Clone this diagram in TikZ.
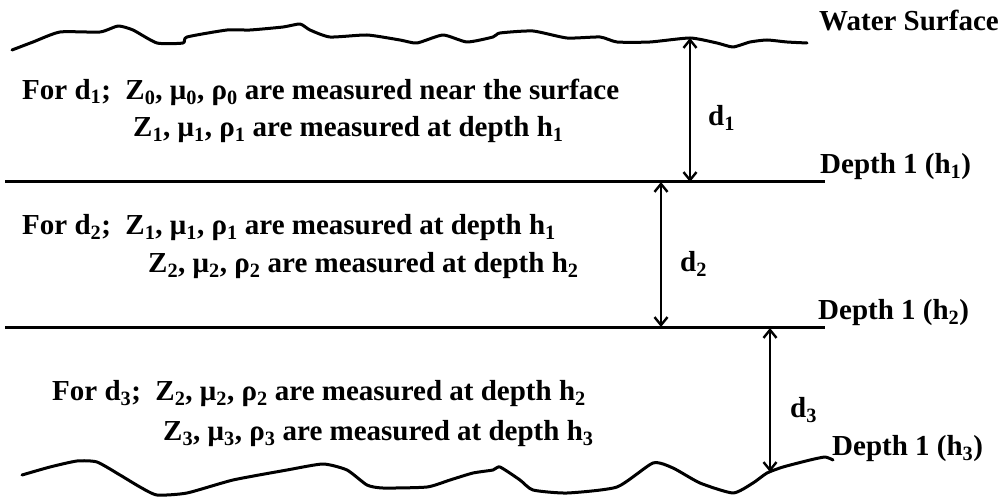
\documentclass[tikz,border=0pt]{standalone}
\usepackage{fontspec}
\setmainfont{Liberation Serif}
\usetikzlibrary{arrows.meta}
\newcommand{\sbs}[1]{\textsubscript{#1}}
\tikzset{
  wave/.style={line width=3pt, line join=round, line cap=round},
  layer/.style={line width=3pt},
  dimarrow/.style={line width=2.8pt, {Straight Barb[length=8pt,width=13pt,line width=2.4pt]}-{Straight Barb[length=8pt,width=13pt,line width=2.4pt]}},
  txt/.style={anchor=west, inner sep=0pt, font=\fontsize{29}{34}\selectfont\bfseries},
  lbl/.style={anchor=west, inner sep=0pt, font=\fontsize{29}{34}\selectfont\bfseries}
}
\begin{document}
\begin{tikzpicture}[x=1pt,y=-1pt]
\useasboundingbox (0,0) rectangle (998,497);
% water surface
\draw[wave] plot[smooth, tension=0.35] coordinates {(12,50) (33,42) (60,32) (100,32) (118,26) (133,30) (157,43) (183,43) (187,37) (227,30) (250,30) (283,27) (300,24) (310,30) (330,37) (367,35) (400,40) (417,43) (443,35) (467,42) (493,37) (500,33) (533,31) (567,38) (600,37) (617,42) (650,42) (690,38) (717,43) (733,47) (750,42) (767,40) (787,42) (807,43)};
% bottom
\draw[wave] plot[smooth, tension=0.35] coordinates {(22,475) (50,467) (77,461) (97,462) (120,475) (140,487) (157,495) (187,493) (233,480) (287,470) (323,464) (347,470) (367,485) (383,488) (427,487) (450,480) (473,473) (493,470) (500,467) (520,480) (533,490) (567,493) (617,487) (653,463) (673,468) (700,483) (733,493) (753,483) (767,473) (783,467) (810,460) (825,457) (833,460)};
% depth lines
\coordinate (l1a) at (5,182); \coordinate (l1b) at (825,182);
\coordinate (l2a) at (5,327); \coordinate (l2b) at (825,327);
\draw[layer] (l1a) -- (l1b);
\draw[layer] (l2a) -- (l2b);
% arrows
\coordinate (a1t) at (690,38); \coordinate (a1b) at (690,182);
\coordinate (a2t) at (661,182); \coordinate (a2b) at (661,327);
\coordinate (a3t) at (770,328); \coordinate (a3b) at (770,472);
\draw[dimarrow] (a1t) -- (a1b);
\draw[dimarrow] (a2t) -- (a2b);
\draw[dimarrow] (a3t) -- (a3b);
% labels
\node[lbl] (ws) at (819,21) {Water Surface};
\node[lbl] (dp1) at (820,167) {Depth 1 (h\sbs{1})};
\node[lbl] (dp2) at (818,313) {Depth 1 (h\sbs{2})};
\node[lbl] (dp3) at (832,449) {Depth 1 (h\sbs{3})};
\node[lbl] (d1) at (708,118) {d\sbs{1}};
\node[lbl] (d2) at (680,264) {d\sbs{2}};
\node[lbl] (d3) at (790,410) {d\sbs{3}};
% texts
\node[txt] (t1a) at (22,92) {For d\sbs{1};\ \ Z\sbs{0}, μ\sbs{0}, ρ\sbs{0} are measured near the surface};
\node[txt] (t1b) at (133,130) {Z\sbs{1}, μ\sbs{1}, ρ\sbs{1} are measured at depth h\sbs{1}};
\node[txt] (t2a) at (22,228) {For d\sbs{2};\ \ Z\sbs{1}, μ\sbs{1}, ρ\sbs{1} are measured at depth h\sbs{1}};
\node[txt] (t2b) at (148,266) {Z\sbs{2}, μ\sbs{2}, ρ\sbs{2} are measured at depth h\sbs{2}};
\node[txt] (t3a) at (52,394) {For d\sbs{3};\ \ Z\sbs{2}, μ\sbs{2}, ρ\sbs{2} are measured at depth h\sbs{2}};
\node[txt] (t3b) at (163,434) {Z\sbs{3}, μ\sbs{3}, ρ\sbs{3} are measured at depth h\sbs{3}};
\end{tikzpicture}
\end{document}
